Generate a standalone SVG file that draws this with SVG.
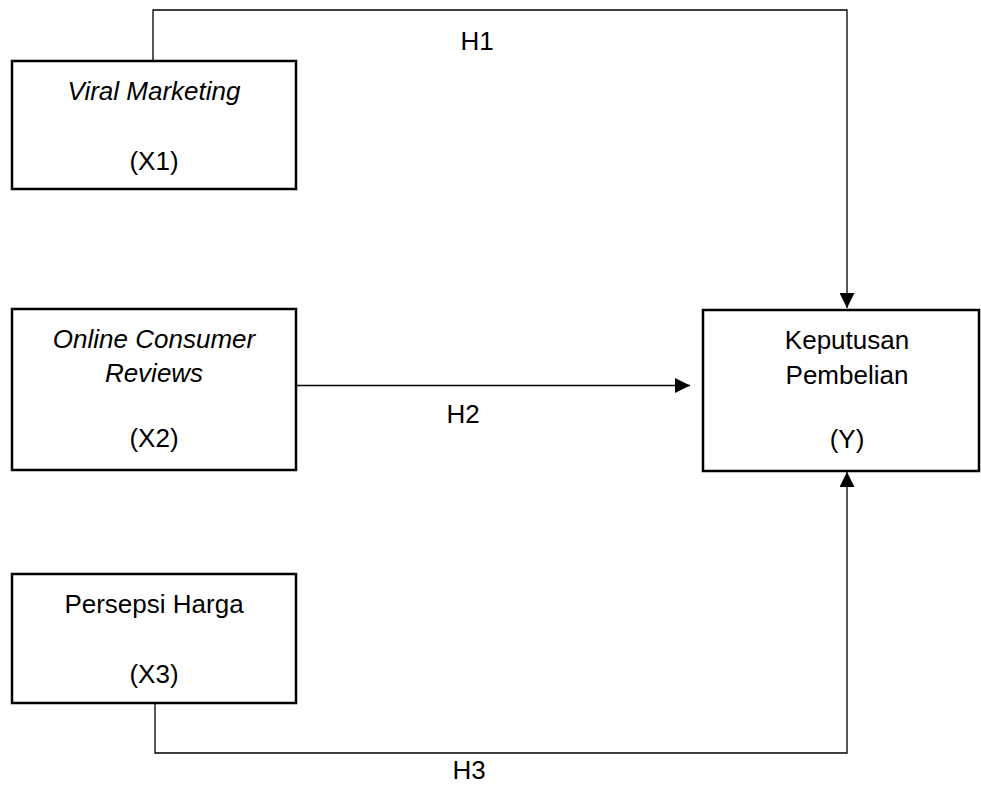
<svg xmlns="http://www.w3.org/2000/svg" width="981" height="785" viewBox="0 0 981 785">
<style>
.box{fill:#fff;stroke:#000;stroke-width:2.5}
.t{font-family:"Liberation Sans",Arial,sans-serif;font-size:26px;fill:#000;text-anchor:middle}
.i{font-style:italic}
.c{fill:none;stroke:#000;stroke-width:1.3}
</style>
<defs>
<marker id="ah" viewBox="0 0 10 10" refX="10" refY="5" markerWidth="15" markerHeight="15" markerUnits="userSpaceOnUse" orient="auto">
<path d="M0,0 L10,5 L0,10 z" fill="#000"/>
</marker>
</defs>
<rect width="981" height="785" fill="#fff"/>
<g id="connectors">
<path class="c" d="M153,61 V10 H847 V308" marker-end="url(#ah)"/>
<path class="c" d="M297,385.5 H690" marker-end="url(#ah)"/>
<path class="c" d="M155,703 V753 H847 V472" marker-end="url(#ah)"/>
<text class="t" x="477" y="50">H1</text>
<text class="t" x="463" y="423">H2</text>
<text class="t" x="469" y="779">H3</text>
</g>
<g id="x1">
<rect class="box" x="12" y="61" width="284" height="128"/>
<text class="t i" x="154" y="100">Viral Marketing</text>
<text class="t" x="154" y="170">(X1)</text>
</g>
<g id="x2">
<rect class="box" x="12" y="309" width="284" height="161"/>
<text class="t i" x="154" y="348">Online Consumer</text>
<text class="t i" x="154" y="382">Reviews</text>
<text class="t" x="154" y="447">(X2)</text>
</g>
<g id="x3">
<rect class="box" x="12" y="574" width="284" height="129"/>
<text class="t" x="154" y="613">Persepsi Harga</text>
<text class="t" x="154" y="683">(X3)</text>
</g>
<g id="y">
<rect class="box" x="703" y="310" width="276" height="161"/>
<text class="t" x="847" y="349">Keputusan</text>
<text class="t" x="847" y="384">Pembelian</text>
<text class="t" x="847" y="448">(Y)</text>
</g>
</svg>
